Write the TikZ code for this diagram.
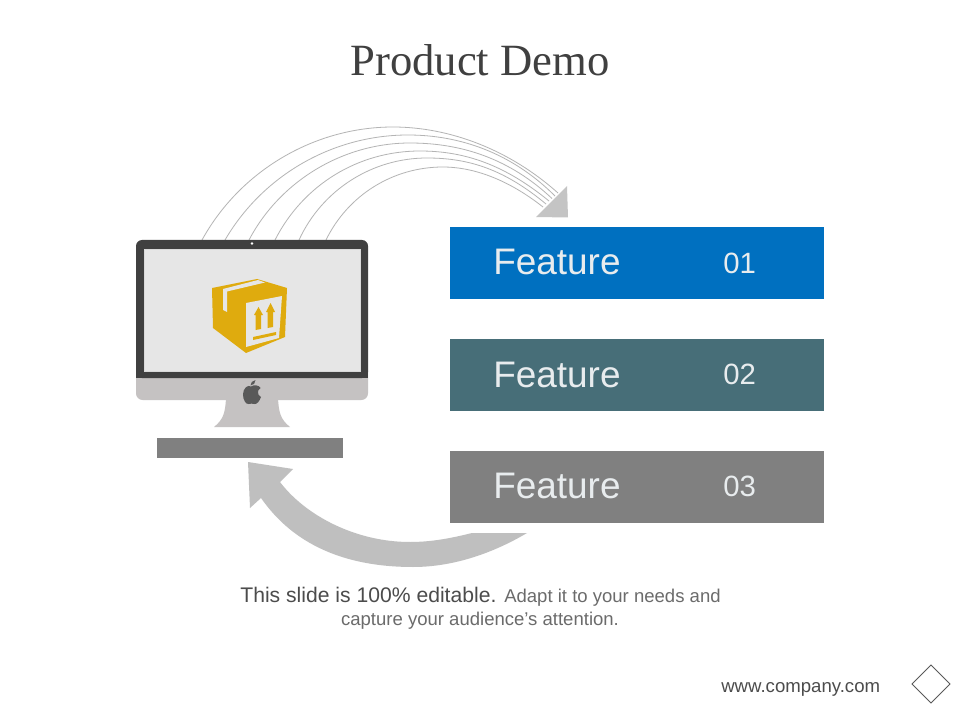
\documentclass[tikz,border=0pt]{standalone}
\usepackage{fontspec}
\setmainfont{Liberation Sans}
\newfontfamily\titlefont{Liberation Serif}
\definecolor{arcgray}{HTML}{B4B4B4}
\definecolor{arrowgray}{HTML}{BFBFBF}
\definecolor{bezel}{HTML}{404040}
\definecolor{screenfill}{HTML}{E6E6E6}
\definecolor{chin}{HTML}{C5C2C2}
\definecolor{basegray}{HTML}{808080}
\definecolor{gold}{HTML}{DFAB0E}
\definecolor{fblue}{HTML}{0070C0}
\definecolor{fteal}{HTML}{476E78}
\definecolor{fgray}{HTML}{808080}
\definecolor{ftext}{HTML}{E8ECEE}
\tikzset{
  arcline/.style={draw=arcgray,line width=0.6pt},
  featurebar/.style={minimum width=280.5pt,minimum height=54pt,inner sep=0pt,anchor=north west},
  featlabel/.style={text=ftext,font=\fontsize{27.7pt}{30pt}\selectfont,anchor=base west,inner sep=0pt},
  featnum/.style={text=ftext,font=\fontsize{22pt}{26pt}\selectfont,anchor=base west,inner sep=0pt},
}
\begin{document}
\begin{tikzpicture}[x=0.75pt,y=-0.75pt]
\useasboundingbox[fill=white] (0,0) rectangle (960,720);
\node[font=\titlefont\fontsize{33.5pt}{38pt}\selectfont,text=black!75,anchor=base,inner sep=0pt] (title) at (480,75.5) {Product Demo};
% arcs
\draw[arcline] (202,240) .. controls (240,171) and (314,127) .. (393,127) .. controls (450,127) and (510,150) .. (558,193);
\draw[arcline] (225,240) .. controls (263,175) and (333,135) .. (408,135) .. controls (460,135) and (512,153) .. (555,196);
\draw[arcline] (249,240) .. controls (280,181) and (343,143) .. (410,143) .. controls (462,143) and (510,159) .. (552,198.5);
\draw[arcline] (275,240) .. controls (303,185) and (358,151) .. (420,151) .. controls (465,151) and (505,165) .. (549,201);
\draw[arcline] (299,240) .. controls (322,190) and (372,158) .. (427,158) .. controls (470,158) and (505,170) .. (546,204);
\draw[arcline] (326,240) .. controls (348,195) and (393,167) .. (443,167) .. controls (470,167) and (505,177) .. (543,207);
\fill[arrowgray!92!white] (567,186) -- (568,217.5) -- (536,217) -- cycle;
% monitor
\fill[chin,rounded corners=5pt] (136,365) rectangle (368,400);
\fill[bezel,rounded corners=4.5pt] (136,240) rectangle (368,378);
\fill[bezel] (136,360) rectangle (368,378);
\fill[screenfill,draw=white!70!gray,line width=0.4pt] (144,249) rectangle (360,371);
\fill[white] (252,243.5) circle[radius=1.4];
\fill[chin] (226,399) -- (278,399) .. controls (279,412) and (280,419) .. (290,427) -- (214,427) .. controls (224,419) and (225,412) .. (226,399) -- cycle;
\fill[basegray] (157,438) rectangle (343,458);
% apple logo
\fill[black!65] (251,386.5) .. controls (254,384.5) and (259,385) .. (260.5,388) .. controls (257,390) and (257,395) .. (261,397) .. controls (259.5,401) and (257,404.5) .. (254.5,404) .. controls (252.5,403.5) and (250.5,403.5) .. (248.5,404) .. controls (246,404.5) and (243,400) .. (243,394.5) .. controls (243,388) and (248,384.5) .. (251,386.5) -- cycle;
\fill[black!65] (250.5,385.5) .. controls (250.5,382.5) and (252.5,380.5) .. (255.5,380) .. controls (255.5,383) and (253.5,385.5) .. (250.5,385.5) -- cycle;
% box icon
\fill[gold] (212,288) -- (257,279) -- (287,288) -- (285,337) -- (246,353) -- (213,328) -- cycle;
\fill[screenfill] (223,289) -- (258,280) -- (265,282.5) -- (227,291.5) -- (227,312) -- (223,310) -- cycle;
\fill[screenfill] (246,303) -- (282,296) -- (279,338) -- (246,347) -- cycle;
\fill[gold] (255.5,330) -- (255.5,315) -- (254,315) -- (258.5,307) -- (263,315) -- (261,315) -- (261,329) -- cycle;
\fill[gold] (267.5,328) -- (267.5,312) -- (266,312) -- (270.5,303) -- (275,312) -- (273,312) -- (273,327) -- cycle;
\fill[gold] (253,337) -- (276,332) -- (276,335) -- (253,340) -- cycle;
% features
\node[featurebar,fill=fblue] (bar1) at (450,227) {};
\node[featurebar,fill=fteal] (bar2) at (450,339) {};
\node[featurebar,fill=fgray] (bar3) at (450,451) {};
\node[featlabel] (f1) at (493,275) {Feature};
\node[featlabel] (f2) at (493,387) {Feature};
\node[featlabel] (f3) at (493,498) {Feature};
\node[featnum] (n1) at (723,274) {01};
\node[featnum] (n2) at (723,384.5) {02};
\node[featnum] (n3) at (723,496.5) {03};
% lower arrow
\fill[arrowgray] (527,533) -- (472,533) .. controls (452,538) and (432,542) .. (410,542) .. controls (355,542) and (305,515) .. (280,482) -- (293,469) -- (248,462) -- (250,508) -- (261,498) .. controls (280,525) and (320,567) .. (413,567) .. controls (455,567) and (495,552) .. (527,533) -- cycle;
% text
\node[anchor=base,inner sep=0pt,font=\fontsize{15.85pt}{18pt}\selectfont] (cap1) at (480.5,602) {\textcolor{black!70}{This slide is 100\% editable.} \textcolor{black!58}{\fontsize{13.9pt}{18pt}\selectfont Adapt it to your needs and}};
\node[anchor=base,inner sep=0pt,font=\fontsize{13.9pt}{18pt}\selectfont,text=black!58] (cap2) at (480,625) {capture your audience's attention.};
\node[anchor=base west,inner sep=0pt,font=\fontsize{13.95pt}{18pt}\selectfont,text=black!70] (url) at (721,692) {www.company.com};
\draw[black!65,line width=0.6pt] (931,665) -- (950,684) -- (931,703) -- (912,684) -- cycle;
\end{tikzpicture}
\end{document}
